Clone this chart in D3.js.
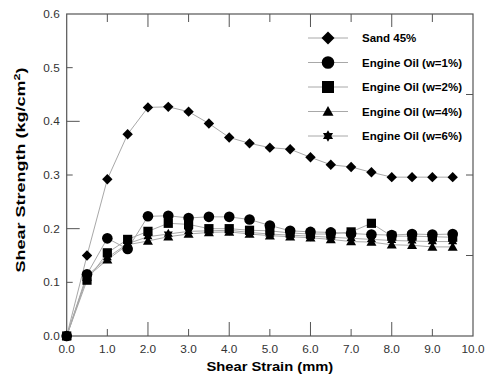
<!DOCTYPE html>
<html>
<head>
<meta charset="utf-8">
<script src="https://cdn.jsdelivr.net/npm/d3@7"></script>
<style>
  body { margin: 0; background: #fff; }
  text { font-family: "Liberation Sans", Arial, sans-serif; }
</style>
</head>
<body>
<svg id="chart"></svg>
<script>
// Values
var strain = [0, 0.5, 1.0, 1.5, 2.0, 2.5, 3.0, 3.5, 4.0, 4.5, 5.0, 5.5, 6.0, 6.5, 7.0, 7.5, 8.0, 8.5, 9.0, 9.5];
var sand45 = [0, 0.150, 0.292, 0.376, 0.426, 0.427, 0.418, 0.396, 0.370, 0.359, 0.351, 0.348, 0.333, 0.319, 0.315, 0.305, 0.296, 0.296, 0.296, 0.296];
var oilW1 = [0, 0.115, 0.182, 0.162, 0.223, 0.224, 0.220, 0.222, 0.222, 0.217, 0.206, 0.196, 0.194, 0.193, 0.191, 0.189, 0.188, 0.190, 0.189, 0.190];
var oilW2 = [0, 0.104, 0.155, 0.180, 0.195, 0.210, 0.208, 0.200, 0.200, 0.197, 0.196, 0.192, 0.190, 0.190, 0.194, 0.210, 0.186, 0.186, 0.185, 0.184];
var oilW4 = [0, 0.110, 0.142, 0.170, 0.177, 0.185, 0.190, 0.193, 0.194, 0.190, 0.187, 0.185, 0.183, 0.180, 0.176, 0.175, 0.170, 0.169, 0.166, 0.166];
var oilW6 = [0, 0.112, 0.146, 0.172, 0.185, 0.190, 0.195, 0.196, 0.197, 0.193, 0.190, 0.188, 0.186, 0.184, 0.182, 0.180, 0.178, 0.177, 0.176, 0.176];
var seriesNames = ["Sand 45%", "Engine Oil (w=1%)", "Engine Oil (w=2%)", "Engine Oil (w=4%)", "Engine Oil (w=6%)"];
var xTicks = [0, 1, 2, 3, 4, 5, 6, 7, 8, 9, 10];
var yTicks = [0, 0.1, 0.2, 0.3, 0.4, 0.5, 0.6];
var rightTicks = [0.15, 0.3, 0.45];

var svg_width = 486, svg_height = 378;
var margin = { top: 14, right: 13, bottom: 42, left: 66.7 };
var width = svg_width - margin.left - margin.right;
var height = svg_height - margin.top - margin.bottom;

var x = d3.scaleLinear().domain([0, 10]).range([0, width]);
var y = d3.scaleLinear().domain([0, 0.6]).range([height, 0]);

var svg = d3.select("#chart")
	.attr("width", svg_width)
	.attr("height", svg_height);

var g = svg.append("g")
	.attr("transform", "translate(" + margin.left + "," + margin.top + ")");

// Marker shapes, s = half width
function diamond(s) {
	var p = d3.path();
	p.moveTo(0, -s); p.lineTo(s, 0); p.lineTo(0, s); p.lineTo(-s, 0); p.closePath();
	return p.toString();
}
function circle(s) {
	var p = d3.path();
	p.arc(0, 0, s, 0, 2 * Math.PI); p.closePath();
	return p.toString();
}
function square(s) {
	var p = d3.path();
	p.rect(-s, -s, 2 * s, 2 * s);
	return p.toString();
}
function triangle(s) {
	var p = d3.path();
	p.moveTo(0, -s); p.lineTo(s, s * 0.75); p.lineTo(-s, s * 0.75); p.closePath();
	return p.toString();
}
function star(s) {
	var p = d3.path();
	for (var k = 0; k < 2; k++) {
		var a0 = k == 0 ? -Math.PI / 2 : Math.PI / 2;
		for (var j = 0; j < 3; j++) {
			var a = a0 + j * 2 * Math.PI / 3;
			if (j == 0) p.moveTo(s * Math.cos(a), s * Math.sin(a));
			else p.lineTo(s * Math.cos(a), s * Math.sin(a));
		}
		p.closePath();
	}
	return p.toString();
}

var series = [
	{ name: seriesNames[0], values: sand45, shape: diamond, size: 5.2, legendSize: 6.5 },
	{ name: seriesNames[1], values: oilW1, shape: circle, size: 5.3, legendSize: 6.3 },
	{ name: seriesNames[2], values: oilW2, shape: square, size: 4.6, legendSize: 6 },
	{ name: seriesNames[3], values: oilW4, shape: triangle, size: 5, legendSize: 5.5 },
	{ name: seriesNames[4], values: oilW6, shape: star, size: 5.2, legendSize: 5.8 }
];

var axisColor = "#555";

// Frame
g.append("rect")
	.attr("width", width)
	.attr("height", height)
	.attr("fill", "none")
	.attr("stroke", axisColor)
	.attr("stroke-width", 1.2);

// Bottom ticks (inward)
g.selectAll(".xtick")
	.data(xTicks.slice(1, -1))
	.enter().append("line")
	.attr("x1", function (d) { return x(d); })
	.attr("x2", function (d) { return x(d); })
	.attr("y1", height)
	.attr("y2", function (d) { return height - (d % 2 == 0 ? 14 : 7); })
	.attr("stroke", axisColor);

// Top ticks (inward)
g.selectAll(".ttick")
	.data(xTicks.slice(1, -1))
	.enter().append("line")
	.attr("x1", function (d) { return x(d); })
	.attr("x2", function (d) { return x(d); })
	.attr("y1", 0)
	.attr("y2", function (d) { return d % 2 == 0 ? 13 : 8; })
	.attr("stroke", axisColor);

// Left ticks (inward)
g.selectAll(".ytick")
	.data(yTicks.slice(1, -1))
	.enter().append("line")
	.attr("x1", 0)
	.attr("x2", function (d, i) { return i % 2 == 1 ? 13 : 6; })
	.attr("y1", function (d) { return y(d); })
	.attr("y2", function (d) { return y(d); })
	.attr("stroke", axisColor);

// Right ticks (inward)
g.selectAll(".rtick")
	.data(rightTicks)
	.enter().append("line")
	.attr("x1", width)
	.attr("x2", width - 7)
	.attr("y1", function (d) { return y(d); })
	.attr("y2", function (d) { return y(d); })
	.attr("stroke", axisColor);

// Tick labels
g.selectAll(".xlabel")
	.data(xTicks)
	.enter().append("text")
	.attr("x", function (d) { return x(d); })
	.attr("y", height + 17)
	.attr("text-anchor", "middle")
	.attr("font-size", "11.8px")
	.attr("fill", "#333")
	.text(function (d) { return d3.format(".1f")(d); });

g.selectAll(".ylabel")
	.data(yTicks)
	.enter().append("text")
	.attr("x", -7)
	.attr("y", function (d) { return y(d) + 4; })
	.attr("text-anchor", "end")
	.attr("font-size", "11.8px")
	.attr("fill", "#333")
	.text(function (d) { return d3.format(".1f")(d); });

// Axis titles (the original lettering is stretched along its length)
function stretch(sel, target) {
	var w = sel.node().getComputedTextLength();
	sel.attr("transform", "scale(" + (target / w) + ",1)");
}

var xTitleG = g.append("g")
	.attr("transform", "translate(" + (width / 2) + "," + (height + 35) + ")");
var xTitle = xTitleG.append("text")
	.attr("text-anchor", "middle")
	.attr("font-size", "13px")
	.attr("font-weight", "bold")
	.text("Shear Strain (mm)");
stretch(xTitle, 127);

var yTitleG = g.append("g")
	.attr("transform", "translate(" + (25 - margin.left) + "," + (156) + ") rotate(-90)");
var yTitle = yTitleG.append("text")
	.attr("text-anchor", "middle")
	.attr("font-size", "13px")
	.attr("font-weight", "bold");
yTitle.append("tspan").text("Shear Strength (kg/cm");
yTitle.append("tspan").attr("baseline-shift", "super").attr("font-size", "9px").text("2");
yTitle.append("tspan").text(")");
stretch(yTitle, 205);

// Lines and markers
var line = d3.line()
	.x(function (d, i) { return x(strain[i]); })
	.y(function (d) { return y(d); });

series.forEach(function (s) {
	g.append("path")
		.datum(s.values)
		.attr("fill", "none")
		.attr("stroke", "#a8a8a8")
		.attr("stroke-width", 1)
		.attr("d", line);
});

series.forEach(function (s) {
	g.selectAll(null)
		.data(s.values)
		.enter().append("path")
		.attr("transform", function (d, i) { return "translate(" + x(strain[i]) + "," + y(d) + ")"; })
		.attr("d", s.shape(s.size))
		.attr("fill", "#000");
});

// Legend
var legend = svg.append("g")
	.attr("transform", "translate(308,38)");

var rows = legend.selectAll(".row")
	.data(series)
	.enter().append("g")
	.attr("transform", function (d, i) { return "translate(0," + (i * 24.5) + ")"; });

rows.append("line")
	.attr("x1", 0)
	.attr("x2", 40)
	.attr("stroke", "#a8a8a8");

rows.append("path")
	.attr("transform", "translate(20,0)")
	.attr("d", function (d) { return d.shape(d.legendSize); })
	.attr("fill", "#000");

rows.append("text")
	.attr("x", 54)
	.attr("y", 4.2)
	.attr("font-size", "11.5px")
	.attr("font-weight", "bold")
	.text(function (d) { return d.name; });
</script>
</body>
</html>
